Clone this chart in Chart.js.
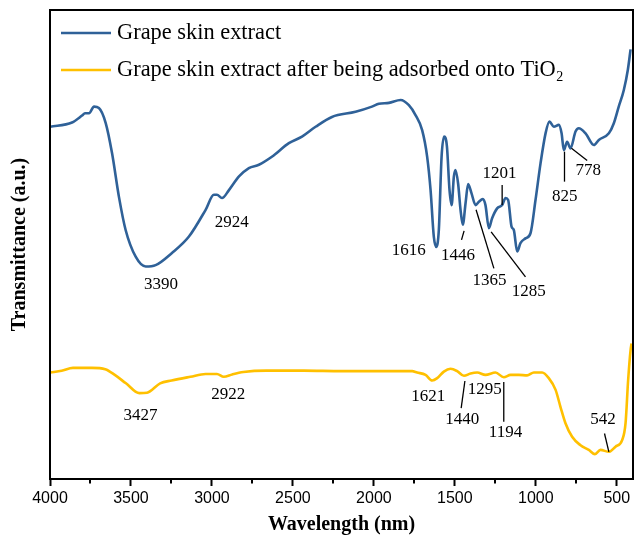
<!DOCTYPE html>
<html>
<head>
<meta charset="utf-8">
<script src="https://cdn.jsdelivr.net/npm/chart.js@4/dist/chart.umd.min.js"></script>
<style>
  html, body { margin: 0; padding: 0; background: #fff; }
  #wrap { width: 634px; height: 545px; position: relative; }
</style>
</head>
<body>
<div id="wrap"><canvas id="c" width="634" height="545"></canvas></div>
<script>
// ---- data (wavenumber, transmittance a.u.) ----
const seriesNames = ['Grape skin extract', 'Grape skin extract after being adsorbed onto TiO2'];

const wnExtract = [4000,3864,3802,3784,3759,3728,3698,3656,3617,3574,3533,3471,3409,3348,3247,3142,3039,2988,2969,2938,2895,2833,2772,2710,2630,2525,2444,2360,2259,2113,2012,1969,1907,1835,1784,1743,1702,1671,1650,1630,1615,1599,1582,1566,1549,1533,1520,1506,1496,1480,1465,1451,1434,1418,1397,1372,1352,1327,1311,1290,1270,1239,1208,1187,1171,1150,1136,1115,1095,1064,1033,1002,971,940,916,889,858,841,827,807,786,755,735,693,642,611,549,519,488,457,432,415];
const tExtract = [75.1,76.0,77.5,78.0,78.0,79.4,79.1,75.9,69.5,60.1,53.1,47.4,45.3,45.6,48.2,51.7,57.4,60.6,60.6,59.9,61.6,64.5,66.3,67.0,68.7,71.6,73.0,75.1,77.2,78.3,79.4,80.0,80.2,80.8,79.7,77.6,74.4,68.7,61.6,51.7,49.5,53.1,68.7,73.0,70.9,61.6,58.4,64.5,65.9,63.0,57.4,54.2,58.8,62.9,60.9,58.4,59.1,59.7,58.4,53.5,55.6,57.7,58.4,59.9,59.5,53.8,53.1,48.5,50.3,51.3,52.4,59.5,67.3,73.7,76.2,75.1,75.5,73.7,70.1,71.9,70.5,74.1,74.8,73.7,71.2,72.3,73.7,75.8,79.4,82.9,87.2,91.6];

const wnTiO2 = [3998,3928,3858,3741,3659,3600,3531,3448,3401,3320,3249,3133,3039,2969,2927,2875,2806,2665,2432,2198,1963,1764,1733,1681,1640,1609,1568,1527,1486,1444,1403,1362,1311,1249,1198,1156,1105,1054,1012,961,920,878,848,817,776,724,673,636,601,549,508,467,446,430,415,409];
const tTiO2 = [22.7,23.1,23.7,23.7,23.4,22.2,20.4,18.3,18.4,20.4,21.0,21.8,22.4,22.4,21.8,22.3,22.8,23.1,23.1,23.0,23.0,23.0,22.7,22.2,21.0,21.5,22.9,23.5,23.0,22.0,22.5,22.7,22.2,22.7,21.7,22.2,22.2,22.1,22.7,22.7,21.5,19.0,15.4,11.9,9.0,7.2,6.2,5.3,6.2,5.8,6.9,8.3,11.9,21.1,27.5,28.9];

const xTickValues = [4000,3500,3000,2500,2000,1500,1000,500];
const xMinorTickValues = [3750,3250,2750,2250,1750,1250,750];

// peak labels: text, label position (wn, t), optional leader line [wn1,t1,wn2,t2]
const peakText   = ['3390','2924','1616','1446','1365','1285','1201','825','778','3427','2922','1621','1440','1295','1194','542'];
const peakLabelWn = [3315,2878,1784,1480,1286,1043,1224,821,677,3441,2899,1665,1455,1315,1187,586];
const peakLabelT  = [41.4,54.6,48.7,47.6,42.3,39.9,65.2,60.2,65.7,13.6,18.1,17.5,12.6,19.1,9.9,12.6];
const peakLeaders = [null,null,null,[1443,52.9,1459,51.0],[1369,57.4,1259,44.9],[1276,52.7,1064,43.1],[1208,62.7,1208,58.4],[823,69.8,823,63.4],[780,70.5,683,67.9],null,null,null,[1438,20.9,1461,15.1],null,[1198,20.7,1198,12.2],[576,9.7,549,5.8]];

const colors = ['#2f6198', '#ffc000'];

function pts(xs, ys) { return xs.map((x, i) => ({ x: x, y: ys[i] })); }

const decor = {
  id: 'decor',
  afterDraw(chart) {
    const ctx = chart.ctx, a = chart.chartArea;
    const xs = chart.scales.x, ys = chart.scales.y;
    ctx.save();
    // frame
    ctx.strokeStyle = '#000';
    ctx.lineWidth = 2;
    ctx.strokeRect(a.left, a.top, a.right - a.left, a.bottom - a.top);
    // minor ticks
    ctx.lineWidth = 2;
    xMinorTickValues.forEach(v => {
      const px = Math.round(xs.getPixelForValue(v));
      ctx.beginPath(); ctx.moveTo(px, a.bottom); ctx.lineTo(px, a.bottom + 4.5); ctx.stroke();
    });
    // legend
    const legY = [33, 70];
    chart.data.datasets.forEach((ds, i) => {
      ctx.strokeStyle = ds.borderColor; ctx.lineWidth = 2.5;
      ctx.beginPath(); ctx.moveTo(61, legY[i]); ctx.lineTo(111, legY[i]); ctx.stroke();
      ctx.fillStyle = '#000';
      ctx.textBaseline = 'middle'; ctx.textAlign = 'left';
      ctx.font = '22.4px "Liberation Serif", "Times New Roman", serif';
      let txt = ds.label, sub = '';
      if (/TiO2$/.test(txt)) { txt = txt.slice(0, -1); sub = '2'; }
      ctx.fillText(txt, 117, legY[i]);
      if (sub) {
        const w = ctx.measureText(txt).width;
        ctx.font = '14px "Liberation Serif", "Times New Roman", serif';
        ctx.fillText(sub, 117 + w + 0.5, legY[i] + 7);
      }
    });
    // peak labels
    ctx.fillStyle = '#000'; ctx.strokeStyle = '#000'; ctx.lineWidth = 1.3;
    ctx.font = '17px "Liberation Serif", "Times New Roman", serif';
    ctx.textAlign = 'center'; ctx.textBaseline = 'middle';
    peakText.forEach((t, i) => {
      ctx.fillText(t, xs.getPixelForValue(peakLabelWn[i]), ys.getPixelForValue(peakLabelT[i]));
      const L = peakLeaders[i];
      if (L) {
        ctx.beginPath();
        ctx.moveTo(xs.getPixelForValue(L[0]), ys.getPixelForValue(L[1]));
        ctx.lineTo(xs.getPixelForValue(L[2]), ys.getPixelForValue(L[3]));
        ctx.stroke();
      }
    });
    ctx.restore();
  }
};

new Chart(document.getElementById('c'), {
  type: 'line',
  data: {
    datasets: [
      { label: seriesNames[0], data: pts(wnExtract, tExtract), borderColor: colors[0], borderWidth: 2.6, pointRadius: 0, cubicInterpolationMode: 'monotone', fill: false },
      { label: seriesNames[1], data: pts(wnTiO2, tTiO2), borderColor: colors[1], borderWidth: 2.6, pointRadius: 0, cubicInterpolationMode: 'monotone', fill: false }
    ]
  },
  options: {
    responsive: false,
    animation: false,
    layout: { padding: { top: 10, right: 1, left: 0, bottom: 0 } },
    plugins: { legend: { display: false }, tooltip: { enabled: false } },
    scales: {
      x: {
        type: 'linear', reverse: true, min: 400, max: 4000,
        afterBuildTicks: s => { s.ticks = xTickValues.map(v => ({ value: v })); },
        afterFit: s => { s.height = 66; },
        grid: { display: true, drawOnChartArea: false, drawTicks: true, tickLength: 7, tickColor: '#000', tickWidth: 2 },
        border: { display: false },
        ticks: { color: '#000', font: { family: '"Liberation Sans", Arial, sans-serif', size: 16 }, padding: 3, maxRotation: 0, autoSkip: false, callback: v => String(v) },
        title: { display: true, text: 'Wavelength (nm)', color: '#000', font: { family: '"Liberation Serif", "Times New Roman", serif', size: 20, weight: 'bold' }, padding: { top: 0, bottom: 8 } }
      },
      y: {
        type: 'linear', min: 0, max: 100,
        afterFit: s => { s.width = 50; },
        grid: { display: false },
        border: { display: false },
        ticks: { display: false },
        title: { display: true, text: 'Transmittance (a.u.)', color: '#000', font: { family: '"Liberation Serif", "Times New Roman", serif', size: 20, weight: 'bold' }, padding: { top: 8, bottom: 0 } }
      }
    }
  },
  plugins: [decor]
});
</script>
</body>
</html>
